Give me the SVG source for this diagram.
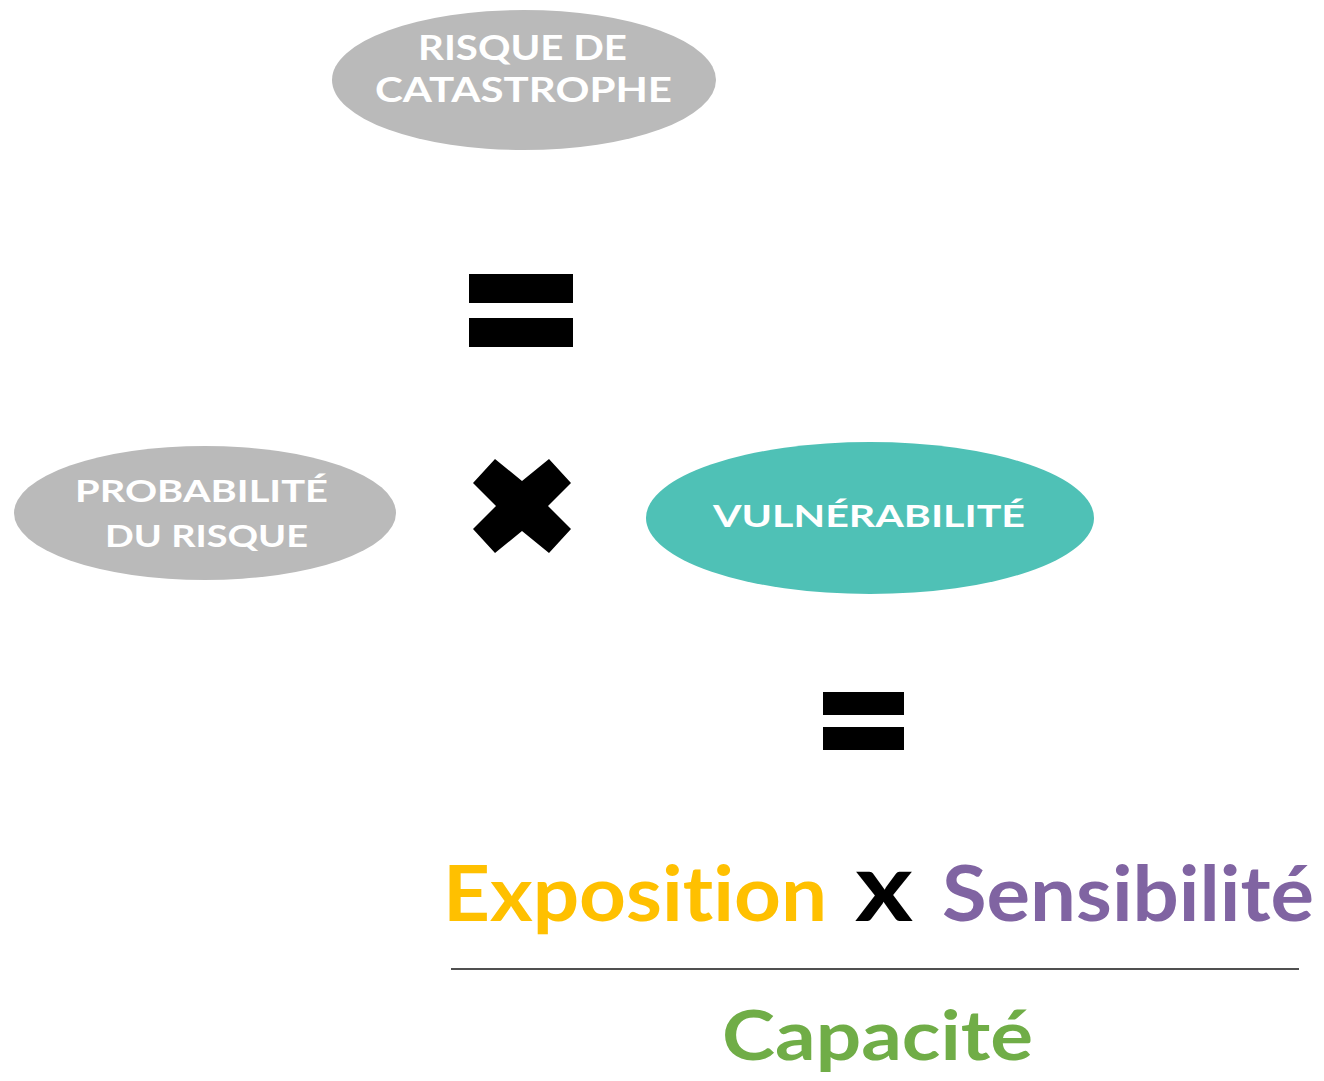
<svg xmlns="http://www.w3.org/2000/svg" width="1324" height="1081" viewBox="0 0 1324 1081">
<style>
.lbl{font-family:Lato,"Open Sans","Liberation Sans",sans-serif;font-weight:700;fill:#fff;text-anchor:middle;font-variant-ligatures:none}
.big{font-family:Lato,"Open Sans","Liberation Sans",sans-serif;font-weight:700;font-variant-ligatures:none}
.gray{fill:#BABABA}
.op{fill:#000}
</style>
<rect width="1324" height="1081" fill="#fff"/>
<g id="risque-catastrophe">
<ellipse class="gray" cx="524" cy="80" rx="192" ry="70"/>
<text class="lbl" x="522.5" y="60" font-size="35" textLength="209" lengthAdjust="spacingAndGlyphs">RISQUE DE</text>
<text class="lbl" x="523.5" y="102" font-size="35" textLength="297" lengthAdjust="spacingAndGlyphs">CATASTROPHE</text>
</g>
<g id="egal-1">
<rect class="op" x="469" y="274" width="104" height="29"/>
<rect class="op" x="469" y="318" width="104" height="29"/>
</g>
<g id="probabilite">
<ellipse class="gray" cx="205" cy="513" rx="191" ry="67"/>
<text class="lbl" x="201.5" y="502" font-size="30" textLength="253" lengthAdjust="spacingAndGlyphs">PROBABILITÉ</text>
<text class="lbl" x="206.5" y="547" font-size="30" textLength="203" lengthAdjust="spacingAndGlyphs">DU RISQUE</text>
</g>
<g id="fois">
<polygon class="op" points="495,459 522,481 549,459 571,483 548,506 571,529 549,553 522,531 495,553 473,529 496,506 473,483"/>
</g>
<g id="vulnerabilite">
<ellipse cx="870" cy="518" rx="224" ry="76" fill="#4FC1B6"/>
<text class="lbl" x="869" y="527" font-size="30" textLength="312" lengthAdjust="spacingAndGlyphs">VULNÉRABILITÉ</text>
</g>
<g id="egal-2">
<rect class="op" x="823" y="692" width="81" height="23"/>
<rect class="op" x="823" y="727" width="81" height="23"/>
</g>
<g id="formule">
<text class="big" x="443" y="921" font-size="77" fill="#FFC000" textLength="384" lengthAdjust="spacingAndGlyphs">Exposition</text>
<text class="big" x="855" y="921" font-size="96" fill="#000" textLength="58" lengthAdjust="spacingAndGlyphs">x</text>
<text class="big" x="942" y="921" font-size="77" fill="#8064A2" textLength="372" lengthAdjust="spacingAndGlyphs">Sensibilité</text>
<text class="big" x="722" y="1060" font-size="69" fill="#70AD47" textLength="311" lengthAdjust="spacingAndGlyphs">Capacité</text>
</g>
<g id="connecteurs">
<line x1="451" y1="969" x2="1299" y2="969" stroke="#505050" stroke-width="2"/>
</g>
</svg>
